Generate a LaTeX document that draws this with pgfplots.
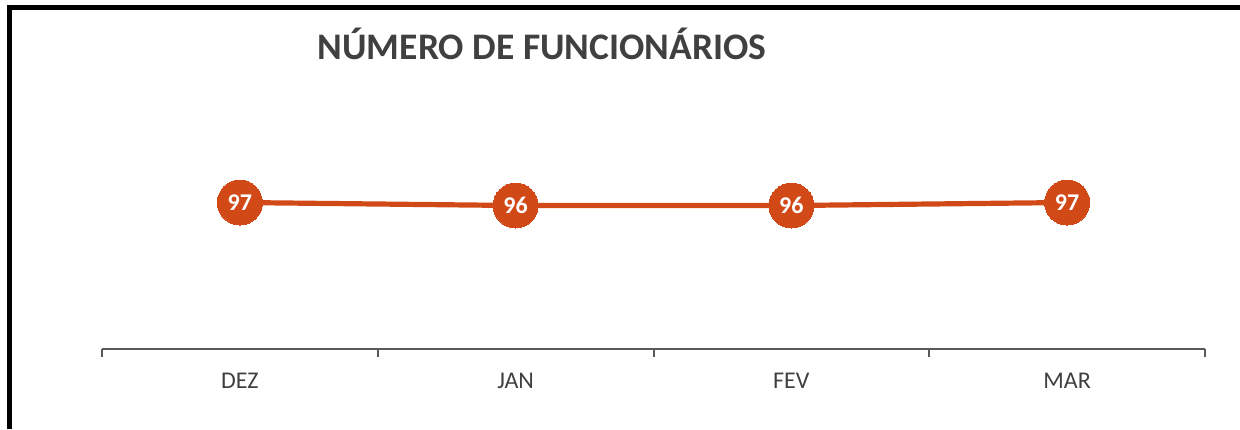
\documentclass[border=0pt]{standalone}
\usepackage{pgfplots}
\pgfplotsset{compat=1.18}
\usepackage{fontspec}
\setmainfont{Carlito}
\definecolor{lineor}{RGB}{210,73,24}
\definecolor{txtgray}{RGB}{64,64,64}
\definecolor{axgray}{RGB}{89,89,89}
\begin{document}
\begin{tikzpicture}[x=1pt,y=1pt]
\useasboundingbox (0,0) rectangle (620,214.5);
\draw[line width=2.5pt,black] (4.75,0) -- (4.75,210.75) -- (620,210.75);
\node[font=\fontsize{18.75}{22}\selectfont\bfseries,text=txtgray] at (271,192.5) {NÚMERO DE FUNCIONÁRIOS};
\begin{axis}[
  at={(51pt,40pt)}, anchor=south west,
  scale only axis, width=551.5pt, height=124.5pt,
  xmin=-0.5, xmax=3.5, ymin=48.17, ymax=131.17,
  axis y line=none,
  axis x line*=bottom,
  x axis line style={-, draw=axgray, line width=1pt},
  xtick={0,1,2,3},
  xticklabels={DEZ,JAN,FEV,MAR},
  major tick length=0pt,
  minor xtick={-0.5,0.5,1.5,2.5,3.5},
  minor tick length=4pt,
  tick align=outside,
  minor tick style={draw=axgray, line width=1pt},
  xticklabel style={font=\fontsize{12}{14}\selectfont, text=txtgray, yshift=-8.5pt},
  clip=false,
]
\addplot[color=lineor, line width=2.6pt, mark=*, mark size=11.25pt,
  mark options={solid, fill=lineor, draw=lineor, line width=0pt},
  point meta=explicit symbolic,
  nodes near coords,
  every node near coord/.append style={anchor=center, text=white, font=\fontsize{12}{14}\selectfont\bfseries},
] coordinates {(0,97)[97] (1,96)[96] (2,96)[96] (3,97)[97]};
\end{axis}
\end{tikzpicture}
\end{document}
